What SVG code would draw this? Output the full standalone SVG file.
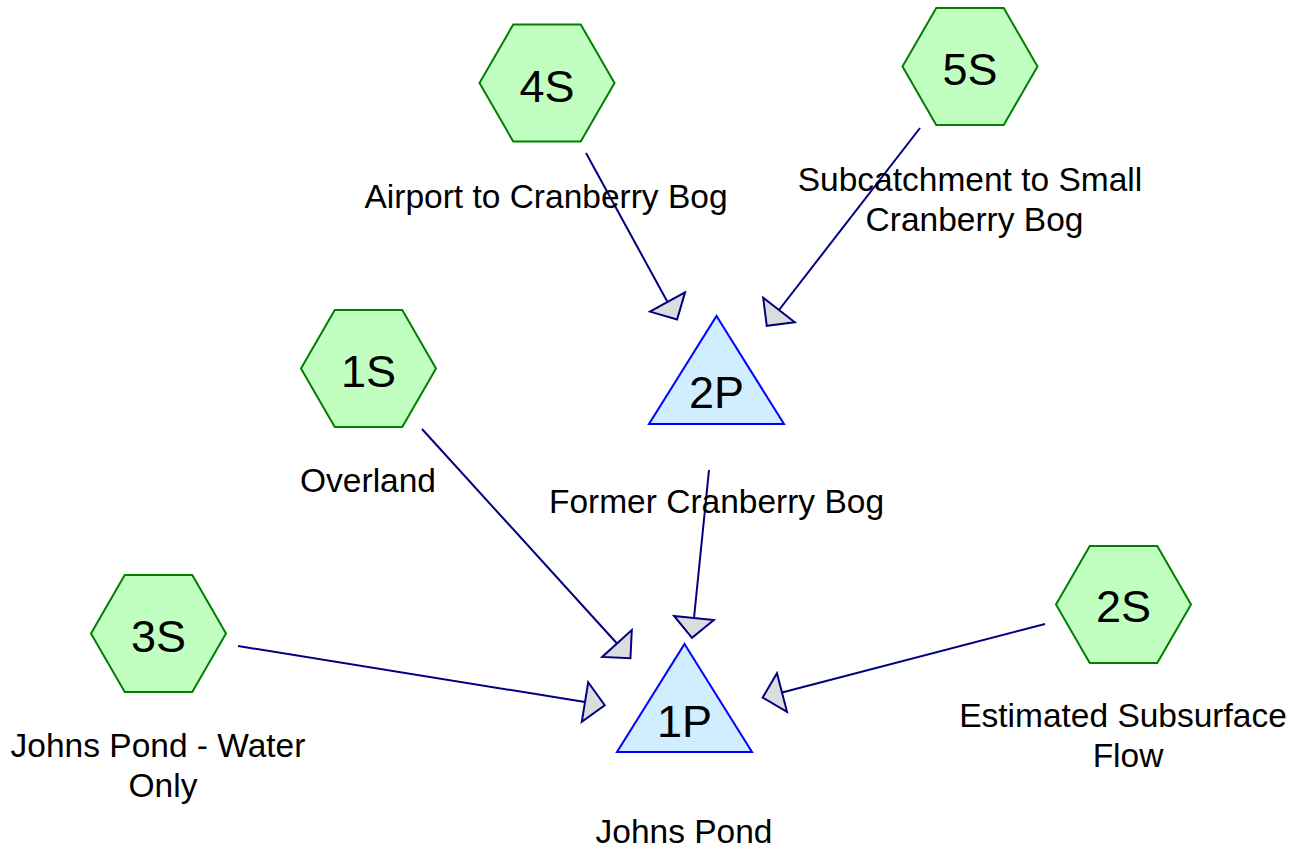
<svg xmlns="http://www.w3.org/2000/svg" width="1307" height="851" viewBox="0 0 1307 851">
  <style>
    .hex { fill: #c0ffc0; stroke: #008000; stroke-width: 2; }
    .pond { fill: #d0eeff; stroke: #0000ff; stroke-width: 2; }
    .id { font-family: "Liberation Sans", Arial, sans-serif; font-size: 45px; fill: #000; text-anchor: middle; }
    .label { font-family: "Liberation Sans", Arial, sans-serif; font-size: 33.5px; fill: #000; text-anchor: middle; }
    .link { stroke: #000080; stroke-width: 2; fill: none; marker-end: url(#head); }
  </style>
  <defs>
    <!-- regular hexagon, 135 wide, centred on the origin -->
    <polygon id="hexShape" points="-67.5,0 -33.75,-58.5 33.75,-58.5 67.5,0 33.75,58.5 -33.75,58.5"/>
    <!-- flat triangular arrowhead whose base sits on the line end -->
    <marker id="head" markerUnits="userSpaceOnUse" viewBox="-2 -22 24 44" markerWidth="24" markerHeight="44" refX="0" refY="0" orient="auto">
      <path d="M0,-20 L20,0 L0,20 Z" fill="#dcdcdc" stroke="#000080" stroke-width="2" stroke-linejoin="miter"/>
    </marker>
  </defs>
  <rect width="1307" height="851" fill="#ffffff"/>

  <g id="connectors">
    <line class="link" x1="586" y1="153" x2="667.5" y2="302"/>
    <line class="link" x1="920" y1="128" x2="779" y2="310"/>
    <line class="link" x1="709" y1="470" x2="694" y2="618"/>
    <line class="link" x1="422" y1="429" x2="617" y2="643.5"/>
    <line class="link" x1="238" y1="646" x2="585" y2="702"/>
    <line class="link" x1="1045" y1="624" x2="782" y2="692.5"/>
  </g>

  <g id="node-4S">
    <use href="#hexShape" class="hex" transform="translate(547,83)"/>
    <text class="id" x="547" y="101.5">4S</text>
    <text class="label" x="546" y="208">Airport to Cranberry Bog</text>
  </g>

  <g id="node-5S">
    <use href="#hexShape" class="hex" transform="translate(970,66.5)"/>
    <text class="id" x="970" y="85">5S</text>
    <text class="label" x="970" y="191">Subcatchment to Small</text>
    <text class="label" x="974.5" y="231">Cranberry Bog</text>
  </g>

  <g id="node-1S">
    <use href="#hexShape" class="hex" transform="translate(368.5,368.5)"/>
    <text class="id" x="368.5" y="387">1S</text>
    <text class="label" x="368" y="492">Overland</text>
  </g>

  <g id="node-3S">
    <use href="#hexShape" class="hex" transform="translate(158.5,633.5)"/>
    <text class="id" x="158.5" y="652">3S</text>
    <text class="label" x="158" y="757">Johns Pond - Water</text>
    <text class="label" x="163" y="797">Only</text>
  </g>

  <g id="node-2S">
    <use href="#hexShape" class="hex" transform="translate(1123.5,604.5)"/>
    <text class="id" x="1123.5" y="622">2S</text>
    <text class="label" x="1123" y="727">Estimated Subsurface</text>
    <text class="label" x="1128" y="767">Flow</text>
  </g>

  <g id="node-2P">
    <polygon class="pond" points="716.5,316 784,424 649,424"/>
    <text class="id" x="716.5" y="408">2P</text>
    <text class="label" x="716.5" y="513">Former Cranberry Bog</text>
  </g>

  <g id="node-1P">
    <polygon class="pond" points="684.5,644 752,752 617,752"/>
    <text class="id" x="684.5" y="737">1P</text>
    <text class="label" x="684" y="843">Johns Pond</text>
  </g>
</svg>
